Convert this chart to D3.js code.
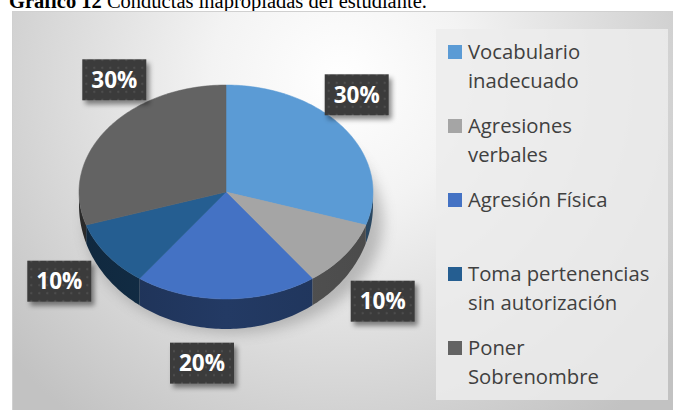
<!DOCTYPE html>
<html><head><meta charset="utf-8">
<script src="https://cdn.jsdelivr.net/npm/d3@7"></script>
<style>html,body{margin:0;padding:0;background:#fff;overflow:hidden}</style>
</head><body>
<svg id="chart" width="673" height="410"></svg>
<script>
// ---- data ----
const categories = ["Vocabulario inadecuado", "Agresiones verbales", "Agresión Física", "Toma pertenencias sin autorización", "Poner Sobrenombre"];
const legendLines = [["Vocabulario", "inadecuado"], ["Agresiones", "verbales"], ["Agresión Física"], ["Toma pertenencias", "sin autorización"], ["Poner", "Sobrenombre"]];
const values = [30, 10, 20, 10, 30];
const colors = ["#5B9BD5", "#A5A5A5", "#4472C4", "#255E91", "#636363"];
const titleBold = "Gráfico 12";
const titleRest = " Conductas inapropiadas del estudiante.";

// ---- layout ----
const W = 673, H = 410;
const cx = 226, cy = 192, rx = 147, ry = 107;
const labelNudge = [[-12,-6],[14,18],[-24,16],[-24,-2],[31,-21]];
const depthAt = a => 13 + 17*Math.max(0, -Math.cos(a));

const svg = d3.select("#chart");
const defs = svg.append("defs");

const bg = defs.append("radialGradient").attr("id","bg").attr("gradientUnits","userSpaceOnUse")
  .attr("cx",340).attr("cy",80).attr("r",430);
bg.append("stop").attr("offset","0").attr("stop-color","#ffffff");
bg.append("stop").attr("offset","0.3").attr("stop-color","#f3f3f3");
bg.append("stop").attr("offset","1").attr("stop-color","#c2c2c2");

const pat = defs.append("pattern").attr("id","dots").attr("patternUnits","userSpaceOnUse")
  .attr("width",8).attr("height",8);
pat.append("rect").attr("width",8).attr("height",8).attr("fill","#3a3a3a");
pat.append("circle").attr("cx",4).attr("cy",4).attr("r",1.2).attr("fill","#4d4d4d");

const sh = defs.append("filter").attr("id","shadow").attr("x","-30%").attr("y","-30%").attr("width","170%").attr("height","170%");
sh.append("feDropShadow").attr("dx",3).attr("dy",4).attr("stdDeviation",2.5).attr("flood-color","#000").attr("flood-opacity",0.45);
const blur = defs.append("filter").attr("id","blur").attr("x","-20%").attr("y","-20%").attr("width","140%").attr("height","140%");
blur.append("feGaussianBlur").attr("stdDeviation",7);

// title (partially cut off at the top)
const title = svg.append("text").attr("x",9).attr("y",7.5)
  .attr("font-family","'Liberation Serif', 'Times New Roman', serif").attr("font-size",20.5).attr("fill","#000");
title.append("tspan").attr("font-weight","bold").text(titleBold);
title.append("tspan").text(titleRest);

// chart area
svg.append("rect").attr("x",12.5).attr("y",11.5).attr("width",670).attr("height",410)
  .attr("fill","url(#bg)").attr("stroke","#d0d0d0").attr("stroke-width",1);

// pie
const pie = d3.pie().sort(null).value(d => d)(values);
const pt = a => [cx + rx*Math.sin(a), cy - ry*Math.cos(a)];
const line = d3.line();

function arcPts(a0, a1, withDepth) {
  const n = Math.max(2, Math.ceil(Math.abs(a1-a0)/0.02));
  return d3.range(n+1).map(i => { const a = a0 + (a1-a0)*i/n; const p = pt(a); return [p[0], p[1] + (withDepth ? depthAt(a) : 0)]; });
}

// soft shadow under the pie
svg.append("ellipse").attr("cx",cx+8).attr("cy",cy+30).attr("rx",rx+2).attr("ry",ry+4)
  .attr("fill","#7a7a7a").attr("opacity",0.45).attr("filter","url(#blur)");

const g = svg.append("g");
// sides (front half only)
pie.forEach((d,i) => {
  const a0 = Math.max(d.startAngle, Math.PI/2), a1 = Math.min(d.endAngle, 3*Math.PI/2);
  if (a1 <= a0) return;
  const top = arcPts(a0, a1, false), bot = arcPts(a1, a0, true);
  const gid = "side"+i;
  const lg = defs.append("linearGradient").attr("id",gid).attr("gradientUnits","userSpaceOnUse")
    .attr("x1",cx-rx).attr("x2",cx+rx).attr("y1",0).attr("y2",0);
  lg.append("stop").attr("offset","0").attr("stop-color",d3.color(colors[i]).darker(2.4));
  lg.append("stop").attr("offset","0.5").attr("stop-color",d3.color(colors[i]).darker(1.9));
  lg.append("stop").attr("offset","1").attr("stop-color",d3.color(colors[i]).darker(2.2));
  g.append("path").attr("d", line(top.concat(bot)) + "Z").attr("fill","url(#"+gid+")");
});
// top faces
pie.forEach((d,i) => {
  const pts = [[cx,cy]].concat(arcPts(d.startAngle, d.endAngle, false));
  g.append("path").attr("d", line(pts) + "Z").attr("fill", colors[i])
    .attr("stroke", colors[i]).attr("stroke-width",0.5);
});

// data labels
const fmt = d3.format(".0%");
const total = d3.sum(values);
pie.forEach((d,i) => {
  const mid = (d.startAngle + d.endAngle)/2;
  const x = cx + rx*1.2*Math.sin(mid) + labelNudge[i][0];
  const y = cy - ry*1.45*Math.cos(mid) + labelNudge[i][1];
  const lgp = svg.append("g").attr("transform",`translate(${x},${y})`);
  lgp.append("rect").attr("x",-32).attr("y",-20.5).attr("width",64).attr("height",41)
    .attr("fill","url(#dots)").attr("filter","url(#shadow)");
  lgp.append("text").attr("text-anchor","middle").attr("y",8)
    .attr("font-family","'Open Sans', sans-serif").attr("font-weight","bold").attr("font-size",22.5)
    .attr("fill","#fff").text(fmt(d.value/total));
});

// legend
svg.append("rect").attr("x",436).attr("y",29).attr("width",232).attr("height",371)
  .attr("fill","#ececec").attr("opacity",0.85);
const leg = svg.append("g");
categories.forEach((c,i) => {
  const by = 59 + i*74;
  leg.append("rect").attr("x",448).attr("y",by-14).attr("width",14).attr("height",14).attr("fill",colors[i]);
  const t = leg.append("text").attr("x",468).attr("y",by)
    .attr("font-family","'Open Sans', sans-serif").attr("font-size",20.3).attr("fill","#404040");
  legendLines[i].forEach((l,j) => t.append("tspan").attr("x",468).attr("y",by + j*28.5).text(l));
});
</script>
</body></html>
